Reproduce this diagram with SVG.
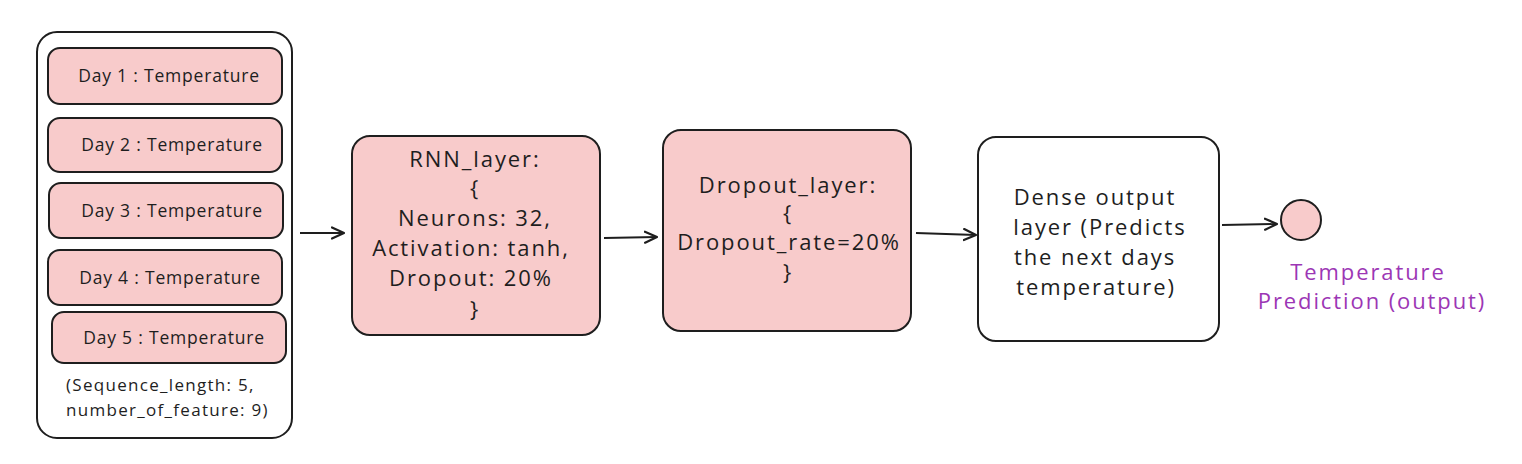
<svg xmlns="http://www.w3.org/2000/svg" width="1522" height="464" viewBox="0 0 1522 464">
<style>
.box{fill:#f8cbcb;stroke:#1e1e1e;stroke-width:2}
.wbox{fill:#ffffff;stroke:#1e1e1e;stroke-width:2}
.t{font-family:"Open Sans","Liberation Sans",sans-serif;fill:#1e1e1e;text-anchor:middle}
.d{font-size:17.5px;letter-spacing:0.8px}
.s{font-size:17px;letter-spacing:1.3px;text-anchor:start}
.b{font-size:22px;letter-spacing:1.9px}
.p{fill:#9c36b5}
.c{stroke:#1e1e1e;stroke-width:2;fill:none;marker-end:url(#ah)}
</style>
<defs>
<marker id="ah" viewBox="0 0 14 14" refX="13" refY="7" markerWidth="14" markerHeight="14" markerUnits="userSpaceOnUse" orient="auto">
<path d="M1,1.5 L13,7 L1,12.5" fill="none" stroke="#1e1e1e" stroke-width="2.2" stroke-linecap="round" stroke-linejoin="round"/>
</marker>
</defs>
<rect width="1522" height="464" fill="#ffffff"/>
<g id="input">
<rect x="37" y="32" width="255" height="406" rx="20" class="wbox"/>
<text class="t s" x="66" y="391">(Sequence_length: 5,</text>
<text class="t s" x="66" y="416">number_of_feature: 9)</text>
</g>
<g id="day1"><rect x="48" y="48" width="234" height="56" rx="12" class="box"/><text class="t d" x="169" y="82">Day 1 : Temperature</text></g>
<g id="day2"><rect x="48" y="118" width="234" height="54" rx="12" class="box"/><text class="t d" x="172" y="151">Day 2 : Temperature</text></g>
<g id="day3"><rect x="49" y="183" width="234" height="55" rx="12" class="box"/><text class="t d" x="172" y="217">Day 3 : Temperature</text></g>
<g id="day4"><rect x="48" y="250" width="234" height="55" rx="12" class="box"/><text class="t d" x="170" y="284">Day 4 : Temperature</text></g>
<g id="day5"><rect x="52" y="312" width="234" height="51" rx="12" class="box"/><text class="t d" x="174" y="344">Day 5 : Temperature</text></g>
<g id="rnn">
<rect x="352" y="136" width="248" height="199" rx="18" class="box"/>
<text class="t b" x="475" y="167">RNN_layer:</text>
<text class="t b" x="475" y="196">{</text>
<text class="t b" x="475" y="226">Neurons: 32,</text>
<text class="t b" x="471" y="256">Activation: tanh,</text>
<text class="t b" x="471" y="286">Dropout: 20%</text>
<text class="t b" x="475" y="317">}</text>
</g>
<g id="dropout">
<rect x="663" y="130" width="248" height="201" rx="18" class="box"/>
<text class="t b" x="788" y="193">Dropout_layer:</text>
<text class="t b" x="788" y="221">{</text>
<text class="t b" x="789" y="250">Dropout_rate=20%</text>
<text class="t b" x="788" y="280">}</text>
</g>
<g id="dense">
<rect x="978" y="137" width="241" height="204" rx="18" class="wbox"/>
<text class="t b" x="1095" y="205">Dense output</text>
<text class="t b" x="1100" y="235">layer (Predicts</text>
<text class="t b" x="1095" y="265">the next days</text>
<text class="t b" x="1096" y="295">temperature)</text>
</g>
<g id="output">
<circle cx="1301" cy="220" r="20" class="box" stroke-width="2.5"/>
<text class="t b p" x="1368" y="280">Temperature</text>
<text class="t b p" x="1372" y="309">Prediction (output)</text>
</g>
<g id="connectors">
<path d="M300,233 L344,233" class="c"/>
<path d="M604,238 L657,237" class="c"/>
<path d="M916,233 L976,235" class="c"/>
<path d="M1222,225 L1277,224" class="c"/>
</g>
</svg>
